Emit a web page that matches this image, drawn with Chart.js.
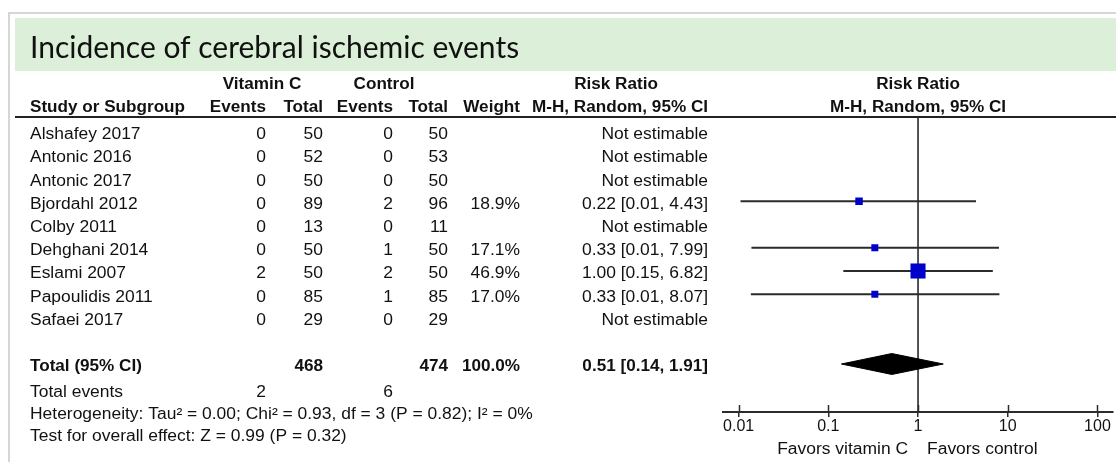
<!DOCTYPE html>
<html>
<head>
<meta charset="utf-8">
<script src="https://cdn.jsdelivr.net/npm/chart.js@4.4.1/dist/chart.umd.min.js"></script>
<style>
  html, body { margin: 0; padding: 0; background: #fff; }
  #wrap { position: relative; width: 1116px; height: 462px; }
  canvas { display: block; }
</style>
</head>
<body>
<div id="wrap"><canvas id="forest" width="1116" height="462"></canvas></div>
<script>
// ---- data ----
const title = 'Incidence of cerebral ischemic events';
const studies = ['Alshafey 2017', 'Antonic 2016', 'Antonic 2017', 'Bjordahl 2012', 'Colby 2011',
                 'Dehghani 2014', 'Eslami 2007', 'Papoulidis 2011', 'Safaei 2017'];
const vitEvents = [0, 0, 0, 0, 0, 0, 2, 0, 0];
const vitTotal  = [50, 52, 50, 89, 13, 50, 50, 85, 29];
const ctlEvents = [0, 0, 0, 2, 0, 1, 2, 1, 0];
const ctlTotal  = [50, 53, 50, 96, 11, 50, 50, 85, 29];
const weights   = [null, null, null, 18.9, null, 17.1, 46.9, 17.0, null];
const riskRatio = [null, null, null, 0.22, null, 0.33, 1.00, 0.33, null];
const ciLower   = [null, null, null, 0.0105, null, 0.0139, 0.147, 0.0137, null];
const ciUpper   = [null, null, null, 4.43, null, 7.99, 6.82, 8.07, null];
const pooledRR = 0.51, pooledLower = 0.14, pooledUpper = 1.91;
const totalWeightLabel = '100.0%';
const tickValues = [0.01, 0.1, 1, 10, 100];
const tickLabels = ['0.01', '0.1', '1', '10', '100'];
const heterogeneity = 'Heterogeneity: Tau\u00B2 = 0.00; Chi\u00B2 = 0.93, df = 3 (P = 0.82); I\u00B2 = 0%';
const overallTest = 'Test for overall effect: Z = 0.99 (P = 0.32)';
const favoursLeft = 'Favors vitamin C';
const favoursRight = 'Favors control';

// ---- layout ----
const TOTAL_ROW = 10;
const Y_MIN = -0.624, Y_MAX = 12.065;
const X_MIN = 0.0067, X_MAX = 149;
const DIAMOND_HALF = 0.45;
const COL = { study: 30, vEvt: 266, vTot: 323, cEvt: 393, cTot: 448, weight: 520, est: 708 };
const FONT = '"Liberation Sans", Arial, sans-serif';
const FS = 16, SX_REG = 1.09, SX_BOLD = 1.07;
const INK = '#111';
const LINE = '#2b2b2b';

const sum = a => a.reduce((s, v) => s + v, 0);
const fmt = v => v.toFixed(2);

function text(ctx, s, x, y, align, bold) {
  ctx.save();
  ctx.font = (bold ? 'bold ' : '') + FS + 'px ' + FONT;
  ctx.fillStyle = INK;
  ctx.textAlign = align;
  ctx.textBaseline = 'alphabetic';
  ctx.translate(x, y);
  ctx.scale(bold ? SX_BOLD : SX_REG, 1);
  ctx.fillText(s, 0, 0);
  ctx.restore();
}

// Frame, title band and the whole text table around the plot
const tablePlugin = {
  id: 'forestTable',
  beforeDraw(chart) {
    const ctx = chart.ctx;
    ctx.save();
    ctx.fillStyle = '#fff';
    ctx.fillRect(0, 0, chart.width, chart.height);
    // light frame
    ctx.strokeStyle = '#d6d6d6';
    ctx.lineWidth = 2;
    ctx.beginPath();
    ctx.moveTo(9, 462); ctx.lineTo(9, 13); ctx.lineTo(1116, 13);
    ctx.stroke();
    // title band
    ctx.fillStyle = '#dcefd8';
    ctx.fillRect(15, 18, 1101, 53);
    ctx.font = '30px Lato, "Open Sans", sans-serif';
    ctx.fillStyle = '#111';
    ctx.textBaseline = 'alphabetic';
    ctx.textAlign = 'left';
    ctx.fillText(title, 30, 58);
    // header rule
    ctx.strokeStyle = '#222';
    ctx.lineWidth = 2;
    ctx.beginPath();
    ctx.moveTo(15, 117); ctx.lineTo(1116, 117);
    ctx.stroke();
    ctx.restore();
  },
  afterDraw(chart) {
    const ctx = chart.ctx;
    const xs = chart.scales.x, ys = chart.scales.y;
    const area = chart.chartArea;
    const one = xs.getPixelForValue(1);

    // tick stubs above the axis line
    ctx.save();
    ctx.strokeStyle = LINE;
    ctx.lineWidth = 1.5;
    tickValues.forEach(v => {
      const px = Math.round(xs.getPixelForValue(v)) + 0.5;
      ctx.beginPath();
      ctx.moveTo(px, area.bottom - 7);
      ctx.lineTo(px, area.bottom);
      ctx.stroke();
    });
    ctx.restore();

    // headers
    text(ctx, 'Vitamin C', 262, 89, 'center', true);
    text(ctx, 'Control', 384, 89, 'center', true);
    text(ctx, 'Risk Ratio', 616, 89, 'center', true);
    text(ctx, 'Risk Ratio', one, 89, 'center', true);
    text(ctx, 'Study or Subgroup', COL.study, 112, 'left', true);
    text(ctx, 'Events', COL.vEvt, 112, 'right', true);
    text(ctx, 'Total', COL.vTot, 112, 'right', true);
    text(ctx, 'Events', COL.cEvt, 112, 'right', true);
    text(ctx, 'Total', COL.cTot, 112, 'right', true);
    text(ctx, 'Weight', COL.weight, 112, 'right', true);
    text(ctx, 'M-H, Random, 95% CI', COL.est, 112, 'right', true);
    text(ctx, 'M-H, Random, 95% CI', one, 112, 'center', true);

    // study rows
    studies.forEach((name, i) => {
      const by = ys.getPixelForValue(i) + 7.5;
      text(ctx, name, COL.study, by, 'left', false);
      text(ctx, String(vitEvents[i]), COL.vEvt, by, 'right', false);
      text(ctx, String(vitTotal[i]), COL.vTot, by, 'right', false);
      text(ctx, String(ctlEvents[i]), COL.cEvt, by, 'right', false);
      text(ctx, String(ctlTotal[i]), COL.cTot, by, 'right', false);
      if (weights[i] != null) {
        text(ctx, weights[i].toFixed(1) + '%', COL.weight, by, 'right', false);
        text(ctx, fmt(riskRatio[i]) + ' [' + fmt(ciLower[i]) + ', ' + fmt(ciUpper[i]) + ']', COL.est, by, 'right', false);
      } else {
        text(ctx, 'Not estimable', COL.est, by, 'right', false);
      }
    });

    // pooled row
    const tb = ys.getPixelForValue(TOTAL_ROW) + 7.5;
    text(ctx, 'Total (95% CI)', COL.study, tb, 'left', true);
    text(ctx, String(sum(vitTotal)), COL.vTot, tb, 'right', true);
    text(ctx, String(sum(ctlTotal)), COL.cTot, tb, 'right', true);
    text(ctx, totalWeightLabel, COL.weight, tb, 'right', true);
    text(ctx, fmt(pooledRR) + ' [' + fmt(pooledLower) + ', ' + fmt(pooledUpper) + ']', COL.est, tb, 'right', true);

    // footer
    text(ctx, 'Total events', COL.study, 397, 'left', false);
    text(ctx, String(sum(vitEvents)), COL.vEvt, 397, 'right', false);
    text(ctx, String(sum(ctlEvents)), COL.cEvt, 397, 'right', false);
    text(ctx, heterogeneity, COL.study, 418.5, 'left', false);
    text(ctx, overallTest, COL.study, 440.5, 'left', false);

    // favours labels
    text(ctx, favoursLeft, one - 10, 454, 'right', false);
    text(ctx, favoursRight, one + 9, 454, 'left', false);
  }
};

// ---- datasets ----
const ciSets = [];
studies.forEach((s, i) => {
  if (riskRatio[i] == null) return;
  ciSets.push({
    data: [{ x: ciLower[i], y: i }, { x: ciUpper[i], y: i }],
    showLine: true, borderColor: LINE, borderWidth: 1.8, pointRadius: 0, order: 3
  });
});

const markers = [];
studies.forEach((s, i) => {
  if (riskRatio[i] != null) markers.push({ x: riskRatio[i], y: i, w: weights[i] });
});

const diamond = [
  { x: pooledLower, y: TOTAL_ROW },
  { x: pooledRR, y: TOTAL_ROW - DIAMOND_HALF },
  { x: pooledUpper, y: TOTAL_ROW },
  { x: pooledRR, y: TOTAL_ROW + DIAMOND_HALF },
  { x: pooledLower, y: TOTAL_ROW }
];

new Chart(document.getElementById('forest'), {
  type: 'scatter',
  data: {
    datasets: [
      {
        data: markers,
        pointStyle: 'rect',
        pointRadius: c => (2.4 + 0.27 * c.raw.w) / Math.SQRT2,
        backgroundColor: '#0000cc',
        borderWidth: 0,
        order: 0
      },
      {
        data: diamond,
        showLine: true, fill: 'shape', tension: 0,
        backgroundColor: '#000', borderColor: '#000', borderWidth: 1,
        pointRadius: 0, order: 1
      },
      {
        data: [{ x: 1, y: Y_MIN }, { x: 1, y: Y_MAX }],
        showLine: true, borderColor: LINE, borderWidth: 1.6, pointRadius: 0, order: 2
      },
      ...ciSets
    ]
  },
  options: {
    responsive: false,
    devicePixelRatio: 1,
    animation: false,
    events: [],
    layout: { autoPadding: false, padding: { left: 723, right: 3, top: 117, bottom: 10 } },
    plugins: { legend: { display: false }, tooltip: { enabled: false }, title: { display: false } },
    scales: {
      x: {
        type: 'logarithmic',
        position: 'bottom',
        min: X_MIN, max: X_MAX,
        border: { display: true, color: LINE, width: 2 },
        grid: { display: true, drawOnChartArea: false, drawTicks: true, tickLength: 5, color: LINE, lineWidth: 1.5 },
        ticks: {
          autoSkip: false, maxRotation: 0, padding: 0, color: INK,
          font: { family: FONT, size: 16 },
          callback: (v, i) => tickLabels[i]
        },
        afterBuildTicks: s => { s.ticks = tickValues.map(v => ({ value: v })); },
        afterFit: s => { s.height = 40; s.paddingLeft = 0; s.paddingRight = 0; }
      },
      y: {
        type: 'linear',
        display: false,
        reverse: true,
        min: Y_MIN, max: Y_MAX
      }
    }
  },
  plugins: [tablePlugin]
});
</script>
</body>
</html>
